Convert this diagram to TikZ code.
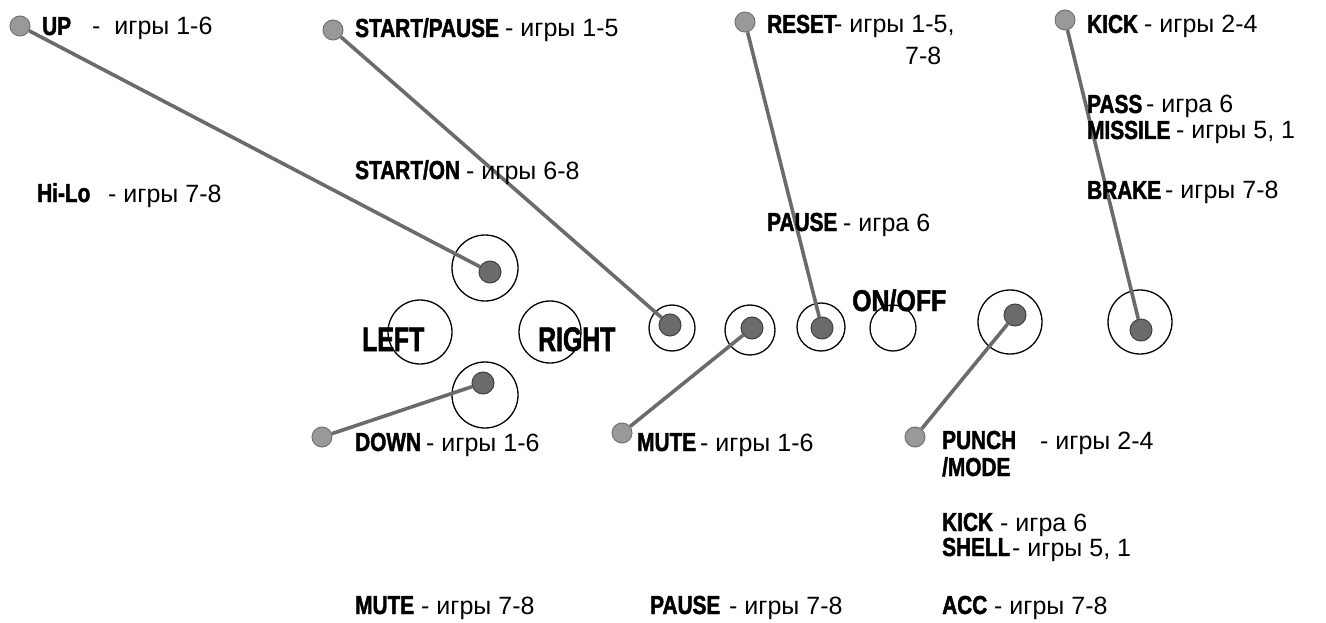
\documentclass[tikz,border=0pt]{standalone}
\usepackage{fontspec}
\setmainfont{Liberation Sans}
\newfontfamily\labfont{Liberation Sans Bold}[FakeStretch=0.8, FakeBold=1.6]
\newfontfamily\bigfont{Liberation Sans Bold}[FakeStretch=0.73, FakeBold=1.8]
\newfontfamily\midfont{Liberation Sans Bold}[FakeStretch=0.83, FakeBold=1.6]
\tikzset{
  pinhead/.style={circle, draw=black!55, fill=black!40, line width=1pt, minimum size=20pt, inner sep=0pt},
  knob/.style={circle, draw=black!75, fill=black!58, line width=1pt, minimum size=22pt, inner sep=0pt},
  ring/.style={circle, draw=black, line width=1.3pt, inner sep=0pt},
  wire/.style={line width=3.6pt, draw=black!58},
  lab/.style={anchor=base west, inner sep=0pt, font=\labfont\fontsize{26}{30}\selectfont},
  biglab/.style={anchor=base west, inner sep=0pt, font=\bigfont\fontsize{34}{38}\selectfont},
  midlab/.style={anchor=base west, inner sep=0pt, font=\midfont\fontsize{30}{34}\selectfont},
  desc/.style={anchor=base west, inner sep=0pt, font=\fontsize{25}{29}\selectfont},
}
\begin{document}
\begin{tikzpicture}[x=1pt, y=-1pt]
\useasboundingbox (0,0) rectangle (1326,623);
% rings
\node[ring, minimum size=66pt] (rup) at (485,268) {};
\node[ring, minimum size=66pt] (rdown) at (485,395) {};
\node[ring, minimum size=64pt] (rleft) at (420,332) {};
\node[ring, minimum size=62pt] (rright) at (550,332) {};
\node[ring, minimum size=46pt] (rstart) at (672,328) {};
\node[ring, minimum size=50pt] (rmute) at (750,330) {};
\node[ring, minimum size=48pt] (rreset) at (821,327) {};
\node[ring, minimum size=46pt] (ronoff) at (893,328) {};
\node[ring, minimum size=64pt] (rpunch) at (1010,322) {};
\node[ring, minimum size=64pt] (rkick) at (1140,322) {};
% knobs
\node[knob] (kup) at (490,272) {};
\node[knob] (kstart) at (670,325) {};
\node[knob] (kmute) at (752,328) {};
\node[knob] (kreset) at (822,328) {};
\node[knob] (kpunch) at (1015,315) {};
\node[knob] (kkick) at (1141,330) {};
\node[knob] (kdown) at (483,383) {};
% pin heads
\node[pinhead] (pup) at (20,26) {};
\node[pinhead] (pstart) at (333,30) {};
\node[pinhead] (preset) at (745,22) {};
\node[pinhead] (pkick) at (1065,20) {};
\node[pinhead] (pdown) at (322,437) {};
\node[pinhead] (pmute) at (622,433) {};
\node[pinhead] (ppunch) at (915,437) {};
% wires
\draw[wire] (pup) -- (kup);
\draw[wire] (pstart) -- (kstart);
\draw[wire] (preset) -- (kreset);
\draw[wire] (pkick) -- (kkick);
\draw[wire] (pdown) -- (kdown);
\draw[wire] (pmute) -- (kmute);
\draw[wire] (ppunch) -- (kpunch);
% labels
\node[lab] (lup) at (42,35) {UP};
\node[desc] (dup) at (92,35) {-\ \ игры 1-6};
\node[lab] (lstart) at (355,37) {START/PAUSE};
\node[desc] (dstart) at (505,37) {- игры 1-5};
\node[lab] (lreset) at (767,33) {RESET};
\node[desc] (dreset) at (834,33) {- игры 1-5,};
\node[desc] (dreset2) at (905,65) {7-8};
\node[lab] (lkick) at (1087,33) {KICK};
\node[desc] (dkick) at (1144,33) {- игры 2-4};
\node[lab] (lpass) at (1087,113) {PASS};
\node[desc] (dpass) at (1146,113) {- игра 6};
\node[lab] (lmiss) at (1087,139) {MISSILE};
\node[desc] (dmiss) at (1176,139) {- игры 5, 1};
\node[lab] (lbrake) at (1087,199) {BRAKE};
\node[desc] (dbrake) at (1165,199) {- игры 7-8};
\node[lab] (lson) at (355,179) {START/ON};
\node[desc] (dson) at (466,179) {- игры 6-8};
\node[lab] (lhilo) at (37,202) {Hi-Lo};
\node[desc] (dhilo) at (108,202) {- игры 7-8};
\node[lab] (lpause6) at (767,231) {PAUSE};
\node[desc] (dpause6) at (843,231) {- игра 6};
\node[midlab] (lonoff) at (852,311) {ON/OFF};
\node[biglab] (lleft) at (362,351) {LEFT};
\node[biglab] (lright) at (538,351) {RIGHT};
\node[lab] (ldown) at (355,451) {DOWN};
\node[desc] (ddown) at (426,451) {- игры 1-6};
\node[lab] (lmute) at (637,451) {MUTE};
\node[desc] (dmute) at (700,451) {- игры 1-6};
\node[lab] (lpunch) at (942,449) {PUNCH};
\node[desc] (dpunch) at (1040,449) {- игры 2-4};
\node[lab] (lmode) at (942,476) {/MODE};
\node[lab] (lkick6) at (942,531) {KICK};
\node[desc] (dkick6) at (1000,531) {- игра 6};
\node[lab] (lshell) at (942,556) {SHELL};
\node[desc] (dshell) at (1012,556) {- игры 5, 1};
\node[lab] (lacc) at (942,614) {ACC};
\node[desc] (dacc) at (994,614) {- игры 7-8};
\node[lab] (lmute78) at (355,614) {MUTE};
\node[desc] (dmute78) at (421,614) {- игры 7-8};
\node[lab] (lpause78) at (650,614) {PAUSE};
\node[desc] (dpause78) at (729,614) {- игры 7-8};
\end{tikzpicture}
\end{document}
